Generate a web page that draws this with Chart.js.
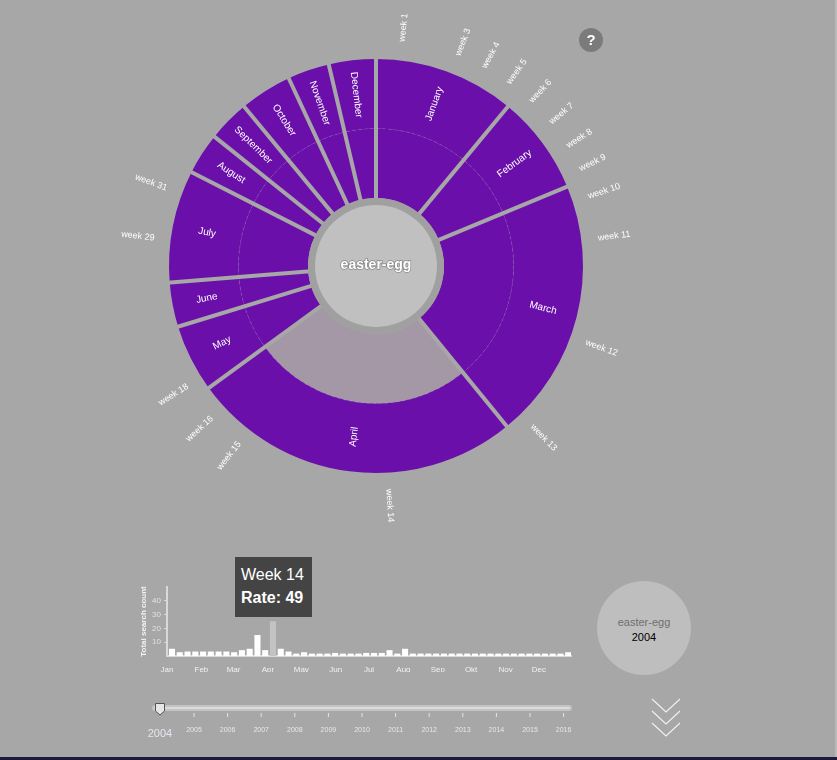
<!DOCTYPE html>
<html><head><meta charset="utf-8">
<script src="https://cdn.jsdelivr.net/npm/chart.js@4.4.1/dist/chart.umd.min.js"></script>
<style>
html,body{margin:0;padding:0;}
body{width:837px;height:760px;background:#a7a7a7;position:relative;overflow:hidden;font-family:"Liberation Sans",Arial,sans-serif;}
#sun{position:absolute;left:110px;top:0;}
#bars{position:absolute;left:130px;top:575px;}
#tip{position:absolute;left:235px;top:557px;width:77px;height:60px;background:#444;color:#fff;}
#tip div{position:absolute;left:6px;line-height:1;font-size:16px;white-space:nowrap;}
#help{position:absolute;left:579px;top:28px;width:24px;height:24px;border-radius:50%;background:#7b7b7b;color:#fff;font-weight:bold;font-size:15px;line-height:24px;text-align:center;}
#yearCircle{position:absolute;left:597px;top:581px;width:94px;height:94px;border-radius:50%;background:#bebebe;}
.yc{position:absolute;width:94px;left:597px;text-align:center;line-height:1;font-size:11px;}
svg{position:absolute;left:0;top:0;}
</style></head>
<body>
<canvas id="sun" width="532" height="532"></canvas>
<canvas id="bars" width="450" height="97"></canvas>
<div id="tip"><div id="tipWeek" style="top:10px"></div><div id="tipRate" style="top:33px;font-weight:bold"></div></div>
<div id="help">?</div>
<div id="yearCircle"></div>
<div class="yc" id="ycTerm" style="top:617px;color:#6f6f6f"></div>
<div class="yc" id="ycYear" style="top:632px;color:#000"></div>
<svg id="ui" width="837" height="760"></svg>
<script>
// ---------- data ----------
const term = 'easter-egg';
const year = '2004';
const monthNames = ['January','February','March','April','May','June','July','August','September','October','November','December'];
const monthShort = ['Jan','Feb','Mar','Apr','May','Jun','Jul','Aug','Sep','Okt','Nov','Dec'];
const monthStartDay = [0,31,60,91,121,152,182,213,244,274,305,335];
// weekly rate (drives the sunburst angles)
const weeklyRate = [9,3,5,5,5, 5,5,5,4, 6,9,28,7, 49,7,6,1.5, 5,2,2,2,2, 2,2,2,2.5, 2.5,2.5,6,1.5,9, 2,2,2,2, 2,2,2,2, 2,2,2,2,2, 2,2,2,2, 2,2,2,3];
// month each week belongs to (0 = January)
const weekMonth = [0,0,0,0,0, 1,1,1,1, 2,2,2,2, 3,3,3,3, 4,4,4,4,4, 5,5,5,5, 6,6,6,6,6, 7,7,7,7, 8,8,8,8, 9,9,9,9,9, 10,10,10,10, 11,11,11,11];
// weekly total search count (bar chart)
const searchCount = [5,2.5,3,3,3,3,3,3,2.5,4,5,15,4,25,5,3,1.5,2.5,1.5,1.5,1.5,2,1.5,1.5,1.5,2,2,2,4,1.5,5,1.5,1.5,1.5,1.5,1.5,1.5,1.5,1.5,1.5,1.5,1.5,1.5,1.5,1.5,1.5,1.5,1.5,1.5,1.5,1.5,2.5];
const labelledWeeks = [1,3,4,5,6,7,8,9,10,11,12,13,14,15,16,18,29,31];
const selectedWeek = 14;
const selectedMonth = 3;
const yTicks = [10,20,30,40];
const sliderYears = ['2005','2006','2007','2008','2009','2010','2011','2012','2013','2014','2015','2016'];

// ---------- styles ----------
const BG = '#a7a7a7';
const PURPLE = '#6a0faa';
const HILITE = '#a497a6';
const FONT = '"Liberation Sans", Arial, sans-serif';
Chart.defaults.font.family = FONT;

const monthTotals = monthNames.map((_, m) => weeklyRate.reduce((s, v, i) => s + (weekMonth[i] === m ? v : 0), 0));

function radialText(ctx, text, cx, cy, ang, r) {
  const x = cx + Math.cos(ang) * r, y = cy + Math.sin(ang) * r;
  let rot = ang;
  if (rot > Math.PI / 2) rot -= Math.PI;
  ctx.save();
  ctx.translate(x, y);
  ctx.rotate(rot);
  ctx.textAlign = 'center';
  ctx.textBaseline = 'middle';
  ctx.fillText(text, 0, 0);
  ctx.restore();
}

const sunPlugin = {
  id: 'sunDecor',
  afterDatasetsDraw(chart) {
    const ctx = chart.ctx;
    const wMeta = chart.getDatasetMeta(0), oMeta = chart.getDatasetMeta(1), iMeta = chart.getDatasetMeta(2);
    const a0 = oMeta.data[0];
    const cx = a0.x, cy = a0.y;
    const outerR = a0.outerRadius, midR = a0.innerRadius, innerR = iMeta.data[0].innerRadius;
    ctx.save();
    // faint ring boundary
    ctx.beginPath();
    ctx.arc(cx, cy, midR, 0, Math.PI * 2);
    ctx.setLineDash([3, 3]);
    ctx.strokeStyle = 'rgba(255,255,255,0.14)';
    ctx.lineWidth = 1;
    ctx.stroke();
    ctx.setLineDash([]);
    // separators
    ctx.strokeStyle = BG;
    ctx.lineWidth = 4;
    oMeta.data.forEach(arc => {
      const a = arc.startAngle;
      ctx.beginPath();
      ctx.moveTo(cx + Math.cos(a) * (innerR - 2), cy + Math.sin(a) * (innerR - 2));
      ctx.lineTo(cx + Math.cos(a) * (outerR + 2), cy + Math.sin(a) * (outerR + 2));
      ctx.stroke();
    });
    // centre circle
    ctx.beginPath(); ctx.arc(cx, cy, innerR, 0, Math.PI * 2); ctx.fillStyle = '#a0a0a0'; ctx.fill();
    ctx.beginPath(); ctx.arc(cx, cy, innerR - 7, 0, Math.PI * 2); ctx.fillStyle = '#c0c0c0'; ctx.fill();
    ctx.font = 'bold 14px ' + FONT;
    ctx.textAlign = 'center'; ctx.textBaseline = 'middle';
    ctx.lineWidth = 1.5; ctx.strokeStyle = 'rgba(90,90,90,0.55)';
    ctx.strokeText(term, cx, cy - 1);
    ctx.fillStyle = '#ffffff';
    ctx.fillText(term, cx, cy - 1);
    // month labels
    ctx.font = '10px ' + FONT;
    ctx.fillStyle = '#ffffff';
    const labR = (outerR + midR) / 2;
    oMeta.data.forEach((arc, i) => {
      radialText(ctx, monthNames[i], cx, cy, (arc.startAngle + arc.endAngle) / 2, labR);
    });
    // week labels
    ctx.font = '9px ' + FONT;
    wMeta.data.forEach((arc, i) => {
      if (labelledWeeks.indexOf(i + 1) < 0) return;
      radialText(ctx, 'week ' + (i + 1), cx, cy, (arc.startAngle + arc.endAngle) / 2, outerR + 33);
    });
    ctx.restore();
  }
};

new Chart(document.getElementById('sun'), {
  type: 'doughnut',
  data: {
    datasets: [
      { data: weeklyRate, weight: 0, backgroundColor: 'rgba(0,0,0,0)', borderWidth: 0 },
      { data: monthTotals, backgroundColor: PURPLE, borderWidth: 0 },
      { data: monthTotals, backgroundColor: monthTotals.map((_, i) => i === selectedMonth ? HILITE : PURPLE), borderWidth: 0 }
    ]
  },
  options: {
    responsive: false, animation: false, events: [],
    radius: 207,
    cutout: (68 / 207 * 100) + '%',
    layout: { padding: 0 },
    plugins: { legend: { display: false }, tooltip: { enabled: false } }
  },
  plugins: [sunPlugin]
});

new Chart(document.getElementById('bars'), {
  type: 'bar',
  data: {
    datasets: [{
      data: searchCount.map((v, i) => ({ x: i * 7 + 4.5, y: v })),
      backgroundColor: searchCount.map((v, i) => i === selectedWeek - 1 ? '#c3c3c3' : '#ffffff'),
      barThickness: 5.4,
      borderWidth: 0
    }]
  },
  options: {
    responsive: false, animation: false, events: [],
    layout: { padding: { top: 12, right: 9, left: 0, bottom: 0 } },
    plugins: { legend: { display: false }, tooltip: { enabled: false } },
    scales: {
      x: {
        type: 'linear', min: 0, max: 364, offset: false,
        afterBuildTicks: s => { s.ticks = monthStartDay.map(v => ({ value: v })); },
        afterFit: s => { s.height = 16; },
        ticks: { callback: (v, i) => monthShort[i], color: '#f2f2f2', font: { size: 8 }, padding: 1, maxRotation: 0, autoSkip: false },
        grid: { display: false },
        border: { color: '#d9d9d9', width: 2 }
      },
      y: {
        min: 0, max: 50,
        afterBuildTicks: s => { s.ticks = yTicks.map(v => ({ value: v })); },
        afterFit: s => { s.width = 37; },
        ticks: { color: '#e2e2e2', font: { size: 8 }, padding: 3 },
        grid: { display: true, drawOnChartArea: false, drawTicks: true, tickLength: 3, color: '#d9d9d9' },
        border: { color: '#d9d9d9', width: 2 },
        title: { display: true, text: 'Total search count', color: '#f2f2f2', font: { size: 8, weight: 'bold' }, padding: { top: 9, bottom: 0 } }
      }
    }
  }
});

// tooltip & year circle text
document.getElementById('tipWeek').textContent = 'Week ' + selectedWeek;
document.getElementById('tipRate').textContent = 'Rate: ' + weeklyRate[selectedWeek - 1];
document.getElementById('ycTerm').textContent = term;
document.getElementById('ycYear').textContent = year;

// slider + chevrons
(function () {
  const NS = 'http://www.w3.org/2000/svg';
  const svg = document.getElementById('ui');
  function el(tag, attrs, text) {
    const e = document.createElementNS(NS, tag);
    for (const k in attrs) e.setAttribute(k, attrs[k]);
    if (text !== undefined) e.textContent = text;
    svg.appendChild(e);
    return e;
  }
  el('rect', { x: 152, y: 705, width: 420, height: 6, rx: 3, fill: '#c3c3c3' });
  el('rect', { x: 154, y: 707, width: 416, height: 2, rx: 1, fill: '#dcdcdc' });
  const x0 = 160.4, step = 33.6;
  sliderYears.forEach((y, k) => {
    const x = x0 + step * (k + 1);
    el('line', { x1: x, x2: x, y1: 713, y2: 717, stroke: '#e6e6e6', 'stroke-width': 1 });
    el('text', { x: x, y: 731.7, 'font-size': 7, fill: '#e8e8e8', 'text-anchor': 'middle', 'font-family': FONT }, y);
  });
  el('text', { x: 160, y: 737, 'font-size': 11, fill: '#e2e8ee', 'text-anchor': 'middle', 'font-family': FONT }, year);
  el('path', { d: 'M155.5,703.5 h9 v7.5 l-4.5,4 l-4.5,-4 z', fill: '#e6e6e6', stroke: '#555', 'stroke-width': 1 });
  [0, 12, 24].forEach(dy => {
    el('polyline', { points: `652,${699 + dy} 666,${712 + dy} 680,${699 + dy}`, fill: 'none', stroke: '#f2f2f2', 'stroke-width': 1.1 });
  });
  el('rect', { x: 0, y: 757, width: 837, height: 3, fill: '#1b1b3c' });
  el('rect', { x: 835, y: 0, width: 2, height: 757, fill: '#b9b9b9' });
})();
</script>
</body></html>
